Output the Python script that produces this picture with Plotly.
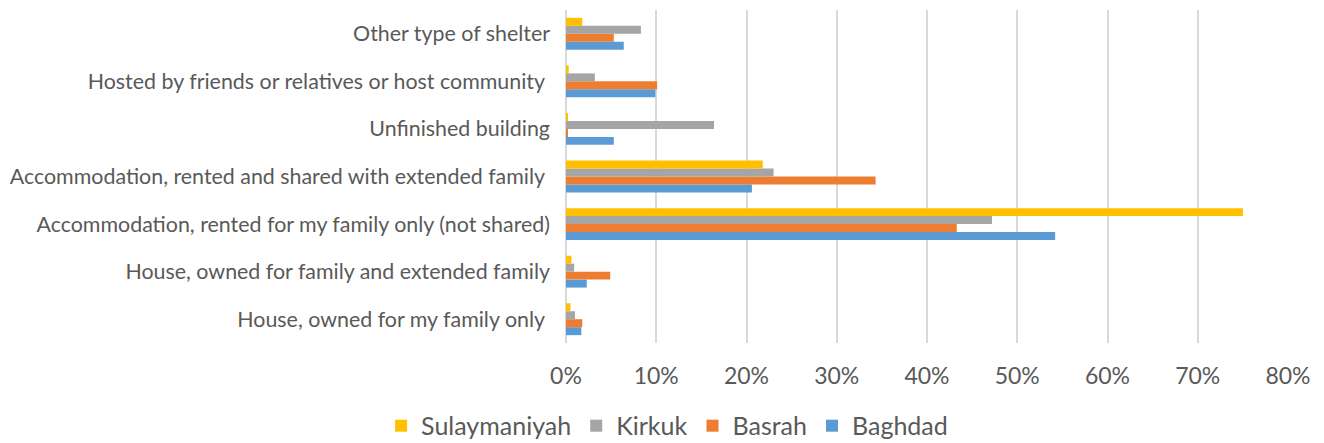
import plotly.graph_objects as go

categories = [
    "House, owned for my family only ",
    "House, owned for family and extended family",
    "Accommodation, rented for my family only (not shared)",
    "Accommodation, rented and shared with extended family ",
    "Unfinished building",
    "Hosted by friends or relatives or host community ",
    "Other type of shelter",
]
baghdad = [1.7, 2.3, 54.2, 20.6, 5.3, 9.9, 6.4]
basrah = [1.8, 4.9, 43.3, 34.3, 0.2, 10.1, 5.3]
kirkuk = [1.0, 0.9, 47.2, 23.0, 16.4, 3.2, 8.3]
sulaymaniyah = [0.5, 0.6, 75.0, 21.8, 0.2, 0.3, 1.8]

series = [
    ("Baghdad", baghdad, "#5B9BD5"),
    ("Basrah", basrah, "#ED7D31"),
    ("Kirkuk", kirkuk, "#A5A5A5"),
    ("Sulaymaniyah", sulaymaniyah, "#FFC000"),
]

fig = go.Figure()
for name, vals, color in series:
    fig.add_trace(go.Bar(
        y=categories, x=[v / 100 for v in vals], name=name, orientation="h",
        marker=dict(color=color, line=dict(width=0)),
    ))

font_family = "Lato, 'Noto Sans', sans-serif"
fig.update_layout(
    barmode="group",
    bargap=0.33,
    bargroupgap=0,
    width=1316, height=435,
    margin=dict(l=558, r=36, t=2, b=100, autoexpand=False),
    plot_bgcolor="white", paper_bgcolor="white",
    font=dict(family=font_family, color="#595959"),
    legend=dict(orientation="h", traceorder="reversed", x=0.14, xanchor="center",
                y=-0.18, yanchor="top",
                font=dict(size=25, color="#595959"), itemwidth=30),
    xaxis=dict(range=[0, 0.8], tickformat=".0%", dtick=0.1,
               showgrid=True, gridcolor="#D9D9D9", gridwidth=2,
               zeroline=True, zerolinecolor="#D9D9D9", zerolinewidth=2,
               ticks="", tickfont=dict(size=23, color="#595959"),
               ticklabelstandoff=17, showline=False, automargin=False),
    yaxis=dict(categoryorder="array", categoryarray=categories,
               tickfont=dict(size=21.4, color="#595959"), ticks="",
               ticklabelstandoff=15, showline=False, automargin=False),
    showlegend=True,
)
fig.write_html("out.html")
